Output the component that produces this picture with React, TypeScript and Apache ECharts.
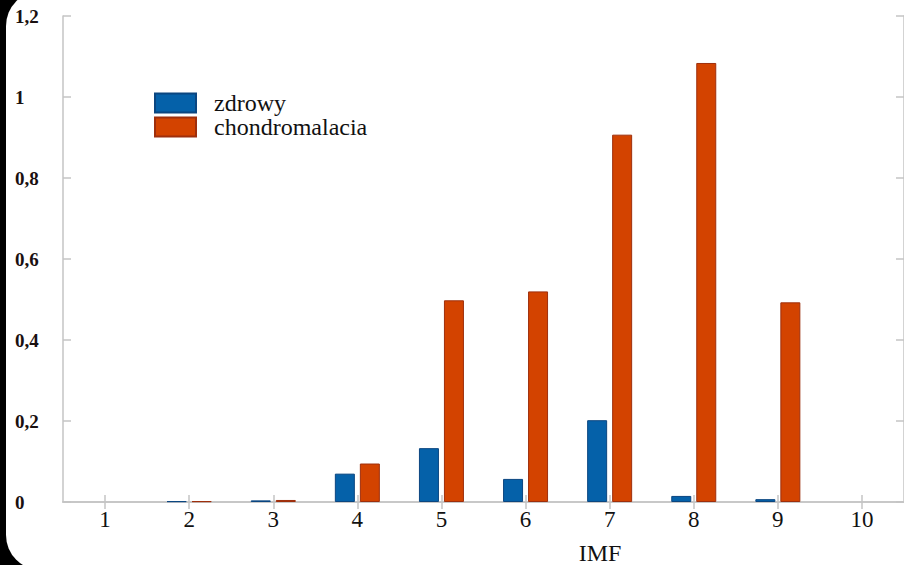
import React, { useEffect, useRef } from "react";
import * as echarts from "echarts";

const categories = ["1", "2", "3", "4", "5", "6", "7", "8", "9", "10"];
const zdrowy = [0, 0.002, 0.004, 0.07, 0.133, 0.057, 0.202, 0.015, 0.007, 0];
const chondromalacia = [0, 0.002, 0.005, 0.095, 0.498, 0.52, 0.907, 1.084, 0.493, 0];
const seriesNames = ["zdrowy", "chondromalacia"];
const axisName = "IMF";
const yMin = 0;
const yMax = 1.2;
const yStep = 0.2;

const FONT = "Liberation Serif, Times New Roman, serif";
const AXIS_COLOR = "#c4c4c4";

const nonZero = (arr: number[]) => arr.map((v) => (v === 0 ? null : v));

export default function App() {
  const ref = useRef<HTMLDivElement>(null);

  useEffect(() => {
    if (!ref.current) return;
    const chart = echarts.init(ref.current, undefined, { renderer: "svg" });
    const axisLine = { show: true, lineStyle: { color: AXIS_COLOR, width: 1.5 } };
    const tickStyle = { color: AXIS_COLOR, width: 1.5 };
    chart.setOption({
      animation: false,
      backgroundColor: "transparent",
      textStyle: { fontFamily: FONT },
      grid: { left: 63, top: 16, width: 841, height: 486, containLabel: false },
      legend: {
        orient: "vertical",
        left: 154,
        top: 91,
        padding: 0,
        itemWidth: 41,
        itemHeight: 19,
        itemGap: 0,
        icon: "rect",
        data: seriesNames,
        textStyle: {
          fontFamily: FONT,
          fontSize: 24,
          color: "#111",
          padding: [0, 0, 0, 13],
        },
      },
      xAxis: [
        {
          type: "category",
          data: categories,
          position: "bottom",
          boundaryGap: true,
          axisLine,
          axisTick: { show: true, inside: true, alignWithLabel: true, length: 7, lineStyle: tickStyle },
          axisLabel: { fontFamily: FONT, fontSize: 23, color: "#111", margin: 6 },
          splitLine: { show: false },
        },
        {
          type: "category",
          data: categories,
          position: "top",
          boundaryGap: true,
          axisLine,
          axisTick: { show: true, inside: true, alignWithLabel: true, length: 7, lineStyle: tickStyle },
          axisLabel: { show: false },
          splitLine: { show: false },
        },
      ],
      yAxis: [
        {
          type: "value",
          min: yMin,
          max: yMax,
          interval: yStep,
          position: "left",
          axisLine,
          axisTick: { show: true, inside: true, length: 8, lineStyle: tickStyle },
          splitLine: { show: false },
          axisLabel: {
            align: "left",
            margin: 48,
            fontFamily: FONT,
            fontSize: 19,
            fontWeight: "bold",
            color: "#1a1010",
            formatter: (v: number) => String(Math.round(v * 10) / 10).replace(".", ","),
          },
        },
        {
          type: "value",
          min: yMin,
          max: yMax,
          interval: yStep,
          position: "right",
          axisLine,
          axisTick: { show: true, inside: true, length: 8, lineStyle: tickStyle },
          splitLine: { show: false },
          axisLabel: { show: false },
        },
      ],
      series: [
        {
          name: seriesNames[0],
          type: "bar",
          data: nonZero(zdrowy),
          barWidth: 20,
          barGap: "25%",
          itemStyle: { color: "#0561a9", borderColor: "#0b4680", borderWidth: 1 },
        },
        {
          name: seriesNames[1],
          type: "bar",
          data: nonZero(chondromalacia),
          barWidth: 20,
          barGap: "25%",
          itemStyle: { color: "#d34300", borderColor: "#9e2f0c", borderWidth: 1 },
        },
      ],
      graphic: [
        {
          type: "text",
          x: 600,
          y: 553,
          style: {
            text: axisName,
            fontFamily: FONT,
            fontSize: 24,
            fill: "#111",
            align: "center",
            verticalAlign: "middle",
          },
        },
      ],
    });
    return () => chart.dispose();
  }, []);

  return (
    <div
      style={{
        position: "fixed",
        left: 0,
        top: 0,
        width: 904,
        height: 565,
        background: "#000",
        overflow: "hidden",
      }}
    >
      <div
        style={{
          position: "absolute",
          left: 6,
          top: -9,
          width: 1000,
          height: 579,
          background: "#fff",
          borderRadius: 35,
        }}
      />
      <div ref={ref} style={{ position: "absolute", left: 0, top: 0, width: 904, height: 565 }} />
    </div>
  );
}
